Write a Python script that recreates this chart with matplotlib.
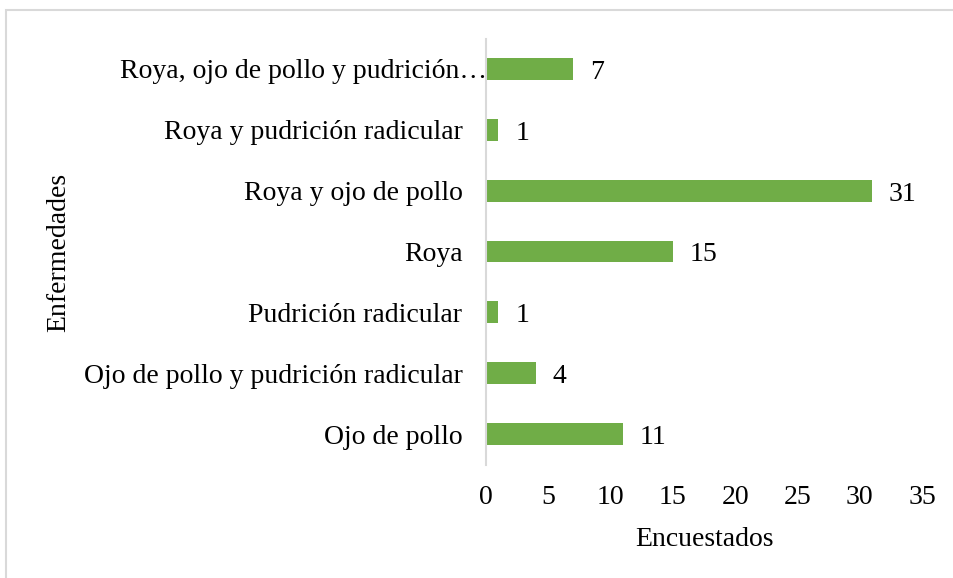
import matplotlib
matplotlib.use("Agg")
import matplotlib.pyplot as plt
from matplotlib.patches import Rectangle
from matplotlib.transforms import ScaledTranslation

categories = ["Ojo de pollo", "Ojo de pollo y pudrición radicular", "Pudrición radicular",
              "Roya", "Roya y ojo de pollo", "Roya y pudrición radicular",
              "Roya, ojo de pollo y pudrición…"]
values = [11, 4, 1, 15, 31, 1, 7]
xticks = [0, 5, 10, 15, 20, 25, 30, 35]

plt.rcParams['font.family'] = ['Liberation Serif', 'DejaVu Serif']

fig = plt.figure(figsize=(9.54, 5.78), dpi=100)
fig.patches.append(Rectangle((6/954, -0.1), 1.2, 1 - 9.5/578 + 0.1, transform=fig.transFigure,
                             fill=False, edgecolor='#d9d9d9', linewidth=1.5))
ax = fig.add_axes([486/954, 1 - 464.5/578, (922 - 486)/954, (464.5 - 38.5)/578])

y = list(range(len(categories)))
bars = ax.barh(y, values, height=0.36, color='#70AD47')
for yi, v in zip(y, values):
    ax.annotate(str(v), xy=(v, yi), xytext=(12, -2.5), textcoords='offset points',
                ha='left', va='center', fontsize=20, color='#000000')

ax.set_xlim(0, 35)
ax.set_ylim(-0.5, len(categories) - 0.5)
ax.set_xticks(xticks)
ax.set_xticklabels([str(t) for t in xticks], fontsize=20)
ax.set_yticks(y)
ax.set_yticklabels(categories, fontsize=20)
ax.tick_params(axis='both', length=0)
ax.tick_params(axis='x', pad=15)
ax.tick_params(axis='y', pad=17)

for s in ['top', 'right', 'bottom']:
    ax.spines[s].set_visible(False)
ax.spines['left'].set_color('#d9d9d9')
ax.spines['left'].set_linewidth(1.5)

# top label in the reference runs right up to the axis
lbl = ax.get_yticklabels()[-1]
lbl.set_transform(lbl.get_transform() + ScaledTranslation(25/100, 0, fig.dpi_scale_trans))

fig.text(704/954, 1 - 539/578, "Encuestados", fontsize=20, ha='center', va='center')
fig.text(59/954, 1 - 252/578, "Enfermedades", fontsize=20, ha='center', va='center', rotation=90)

fig.savefig("out.png", dpi=100)
